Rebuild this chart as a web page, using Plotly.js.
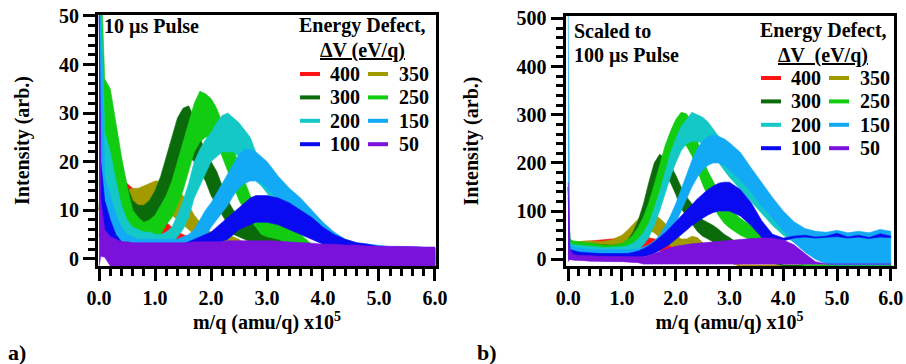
<!DOCTYPE html>
<html>
<head>
<meta charset="utf-8">
<script src="https://cdn.plot.ly/plotly-3.0.1.min.js"></script>
<style>html,body{margin:0;padding:0;background:#fff}#chart{width:906px;height:364px}</style>
</head>
<body>
<div id="chart"></div>
<script>
// m/q grid (x10^5 amu/q)
const X = [0, 0.03, 0.1, 0.2, 0.3, 0.4, 0.5, 0.6, 0.7, 0.8,
  0.9, 1.0, 1.1, 1.2, 1.3, 1.4, 1.5, 1.6, 1.7, 1.8,
  1.9, 2.0, 2.1, 2.2, 2.3, 2.4, 2.5, 2.6, 2.7, 2.8,
  2.9, 3.0, 3.2, 3.4, 3.6, 3.8, 4.0, 4.2, 4.4, 4.6,
  4.8, 5.0, 5.2, 5.4, 5.6, 5.8, 6.0];

const energies = ['400', '350', '300', '250', '200', '150', '100', '50'];

// ---- Panel a: 10 us pulse, upper / lower noise envelopes ----
const A400hi = [55, 30, 19, 17, 16.5, 16, 15.5, 14.5, 12.5, 11,
  9.5, 8.5, 8, 7.5, 6.5, 5.5, 5, 4.5, 4, 3.5,
  3, 2.5, 2, 1.5, 1.2, 1, 1, 0.8, 0.8, 0.7,
  0.7, 0.6, 0.5, 0.5, 0.4, 0.4, 0.3, 0.3, 0.3, 0.2,
  0.2, 0.2, 0.2, 0.2, 0.2, 0.2, 0.2];
const A400lo = [10, 14, 12, 11, 10, 9, 8.5, 8, 7, 6,
  5.5, 5, 4, 3.5, 3, 2.5, 2, 1.5, 1, 0.5,
  0, -0.3, -0.5, -0.6, -0.7, -0.8, -0.9, -1, -1, -1,
  -1.5, -1.5, -1.5, -1.5, -1.5, -1.5, -1.5, -1.5, -1.5, -1.5,
  -1.5, -1.5, -1.5, -1.5, -1.5, -1.5, -1.5];
const A350hi = [55, 35, 28, 26, 19, 15, 14, 14.5, 14.5, 15,
  15.5, 16, 16, 15.5, 15, 14, 13, 11, 9, 7.5,
  6, 5.5, 5, 5, 5, 4.5, 4, 3, 2, 1.5,
  1.2, 1, 0.8, 0.6, 0.5, 0.4, 0.3, 0.3, 0.3, 0.3,
  0.3, 0.3, 0.3, 0.3, 0.3, 0.3, 0.3];
const A350lo = [10, 18, 20, 18, 14, 11, 9.5, 9, 9, 9,
  9.5, 10, 10, 10, 9, 8, 7, 6, 5, 4,
  3, 2.5, 2, 2, 1.5, 1, 1, 0.5, 0, -0.5,
  -1.5, -1.5, -1.5, -1.5, -1.5, -1.5, -1.5, -1.5, -1.5, -1.5,
  -1.5, -1.5, -1.5, -1.5, -1.5, -1.5, -1.5];
const A300hi = [60, 45, 33, 32, 27, 20, 15, 12, 11, 11,
  12, 14, 17, 21, 25, 29, 31, 31.5, 29, 25,
  22, 20, 18, 15, 12, 10, 9, 8.5, 8, 8,
  7.5, 7, 5, 3.5, 2.5, 1.5, 1, 0.8, 0.6, 0.5,
  0.4, 0.3, 0.3, 0.3, 0.3, 0.3, 0.3];
const A300lo = [10, 20, 22, 20, 16, 11, 8, 6.5, 6, 6,
  6, 7.5, 9, 12, 15, 19, 21, 21, 20, 18,
  16, 13, 11, 9, 7, 5, 4.5, 4, 3.5, 3.5,
  3, 2.5, 1.5, 0.5, 0, -0.5, -1.5, -1.5, -1.5, -1.5,
  -1.5, -1.5, -1.5, -1.5, -1.5, -1.5, -1.5];
const A250hi = [60, 60, 37, 35, 28, 21, 15, 10, 8.5, 7.5,
  8, 9, 11, 13, 16, 20, 24, 28, 32, 34.5,
  34, 33, 31, 28, 25, 23, 19, 16, 13, 11,
  10, 9, 8, 7, 5, 3, 1.5, 0.8, 0.5, 0.4,
  0.3, 0.3, 0.3, 0.3, 0.3, 0.3, 0.3];
const A250lo = [15, 25, 25, 22, 15, 11, 7, 5, 4, 3.5,
  3.5, 4, 5, 7, 8.5, 11, 14, 18, 22, 24,
  25, 25, 24, 21, 18, 15, 12, 10, 8, 6.5,
  5, 4.5, 4, 3, 2, 0.5, -0.5, -1.5, -1.5, -1.5,
  -1.5, -1.5, -1.5, -1.5, -1.5, -1.5, -1.5];
const A200hi = [60, 55, 26, 22, 16, 11, 8, 6.5, 6, 5.5,
  5.5, 5, 5, 5.5, 6.5, 9, 12, 15.5, 20, 22.5,
  24.5, 26, 28, 29.5, 30, 29, 28, 26.5, 25, 22,
  20, 18, 15, 12, 9.5, 7, 5, 4, 3, 2.5,
  2, 2, 2, 1.8, 1.8, 1.6, 1.5];
const A200lo = [20, 20, 15, 12, 8, 5, 3.5, 3, 2.5, 2.5,
  2.5, 2.5, 2.5, 2.5, 3, 4.5, 6, 8.5, 12.5, 15,
  17.5, 20, 21, 22, 22, 22, 21, 20, 18.5, 16,
  15, 13.5, 10.5, 8.5, 6.5, 4.5, 3, 2, 1, 0.5,
  0, 0, -0.5, -0.5, -0.5, -0.5, -0.5];
const A150hi = [60, 50, 17, 13, 9, 6.5, 5, 4.5, 4, 4,
  4, 4, 4, 4, 4, 4, 4.5, 5, 6, 8,
  10, 11.5, 13.5, 15.5, 17.5, 19.5, 21.5, 22.5, 22.5, 22,
  21, 20, 17, 14.5, 12.5, 10, 7.5, 5.5, 4, 3.3,
  3, 2.7, 2.5, 2.5, 2.4, 2.4, 2.3];
const A150lo = [10, 10, 8, 5, 3, 2, 1.5, 1.5, 1.5, 1.5,
  1.5, 1.5, 1.5, 1.5, 1.5, 1.5, 1.5, 2, 2.5, 3.5,
  4.5, 6.5, 8, 9.5, 11, 13, 14.5, 15.5, 16, 16,
  15.5, 14.5, 12, 9.5, 8, 6, 4, 2.5, 1.5, 1,
  0.5, 0.3, 0, 0, 0, 0, 0];
const A100hi = [50, 20, 12, 8, 5, 3.5, 3, 2.8, 2.8, 2.8,
  2.8, 2.8, 2.8, 2.8, 2.8, 2.8, 3, 3.5, 4, 4.5,
  5, 5.5, 6.5, 7.5, 8.5, 9.5, 10.5, 11.5, 12.5, 13,
  13, 13, 12.5, 11.5, 10, 8.5, 6.5, 5, 4, 3.3,
  3, 2.5, 2.3, 2.3, 2.2, 2.2, 2.2];
const A100lo = [5, 3, 2, 1, 0.5, 0.5, 0.5, 0.5, 0.5, 0.5,
  0.5, 0.5, 0.5, 0.5, 0.5, 0.5, 0.7, 1, 1.2, 1.5,
  2, 2.5, 3, 3.5, 4, 5, 6, 6.5, 7, 7.5,
  7.5, 7.5, 7, 6, 5, 4, 3, 2, 1.5, 1,
  0.5, 0, 0, 0, 0, 0, 0];
const A50hi = [55, 12, 6, 4.5, 4, 3.5, 3.5, 3.3, 3.3, 3.3,
  3.3, 3.3, 3.3, 3.3, 3.3, 3.3, 3.3, 3.3, 3.5, 3.5,
  3.5, 3.5, 3.5, 3.5, 3.7, 3.7, 3.8, 3.8, 3.8, 3.8,
  3.8, 3.7, 3.6, 3.5, 3.3, 3.2, 3, 3, 2.8, 2.8,
  2.6, 2.6, 2.5, 2.5, 2.5, 2.4, 2.4];
const A50lo = [-1.5, 0.5, 0.3, -1.5, -1.5, -1.5, -1.5, -1.5, -1.5, -1.5,
  -1.5, -1.5, -1.5, -1.5, -1.5, -1.5, -1.5, -1.5, -1.5, -1.5,
  -1.5, -1.5, -1.5, -1.5, -1.5, -1.5, -1.5, -1.5, -1.5, -1.5,
  -1.5, -1.5, -1.5, -1.5, -1.5, -1.5, -1.5, -1.5, -1.5, -1.5,
  -1.5, -1.5, -1.5, -1.5, -1.5, -1.5, -1.5];

// ---- Panel b: scaled to 100 us pulse ----
const B400hi = [150, 40, 35, 36, 36, 37, 38, 39, 40, 41,
  42, 43, 45, 47, 48, 47, 45, 42, 40, 37,
  35, 32, 30, 33, 36, 33, 25, 20, 15, 10,
  7, 5, -12, -12, -12, -12, -12, -12, -12, -12,
  -12, -12, -12, -12, -12, -12, -12];
const B400lo = [10, 15, 20, 22, 23, 24, 24, 25, 25, 25,
  25, 25, 25, 25, 25, 24, 22, 20, 18, 16,
  15, 12, 10, 10, 10, 8, 5, 2, 0, -3,
  -5, -7, -14, -14, -14, -14, -14, -14, -14, -14,
  -14, -14, -14, -14, -14, -14, -14];
const B350hi = [150, 40, 35, 37, 38, 38, 37, 37, 38, 40,
  45, 50, 60, 72, 85, 95, 100, 95, 85, 75,
  60, 50, 42, 42, 48, 45, 35, 25, 15, 10,
  6, 3, -12, -12, -12, -12, -12, -12, -12, -12,
  -12, -12, -12, -12, -12, -12, -12];
const B350lo = [10, 18, 22, 24, 25, 25, 24, 23, 22, 23,
  25, 28, 32, 40, 50, 55, 60, 55, 45, 35,
  28, 20, 15, 12, 15, 15, 10, 5, 0, -3,
  -5, -7, -14, -14, -14, -14, -14, -14, -14, -14,
  -14, -14, -14, -14, -14, -14, -14];
const B300hi = [150, 40, 35, 34, 33, 32, 31, 30, 29, 29,
  30, 32, 40, 55, 80, 115, 160, 200, 218, 210,
  195, 175, 150, 130, 115, 95, 82, 76, 70, 62,
  52, 45, 30, 20, 10, 3, -12, -12, -12, -12,
  -12, -12, -12, -12, -12, -12, -12];
const B300lo = [10, 18, 22, 22, 21, 20, 18, 16, 15, 15,
  15, 16, 20, 30, 50, 80, 115, 150, 170, 170,
  160, 135, 105, 90, 75, 58, 48, 42, 36, 30,
  22, 15, 5, 0, -5, -8, -14, -14, -14, -14,
  -14, -14, -14, -14, -14, -14, -14];
const B250hi = [150, 42, 38, 37, 36, 34, 32, 30, 29, 29,
  30, 33, 40, 50, 66, 88, 118, 155, 195, 235,
  265, 290, 305, 302, 285, 245, 210, 182, 160, 140,
  120, 105, 85, 70, 55, 35, 15, 5, -12, -12,
  -12, -12, -12, -12, -12, -12, -12];
const B250lo = [10, 20, 24, 23, 22, 20, 18, 16, 15, 15,
  15, 17, 22, 28, 38, 55, 78, 105, 140, 175,
  205, 230, 240, 235, 215, 185, 155, 130, 110, 90,
  75, 65, 50, 40, 30, 15, 0, -5, -14, -14,
  -14, -14, -14, -14, -14, -14, -14];
const B200hi = [150, 35, 30, 29, 28, 26, 25, 24, 24, 25,
  25, 26, 28, 33, 42, 55, 75, 105, 140, 180,
  220, 250, 275, 290, 305, 300, 295, 285, 270, 255,
  240, 225, 195, 165, 135, 105, 80, 60, 45, 30,
  20, 10, 0, -5, -5, -5, -5];
const B200lo = [5, 12, 15, 15, 14, 13, 12, 11, 10, 10,
  10, 10, 12, 14, 20, 30, 45, 70, 100, 135,
  170, 200, 225, 240, 245, 245, 240, 230, 215, 200,
  185, 170, 145, 120, 95, 70, 50, 35, 20, 10,
  0, -5, -10, -10, -10, -10, -10];
const B150hi = [520, 30, 25, 23, 22, 21, 20, 20, 20, 20,
  20, 20, 20, 20, 22, 25, 30, 38, 50, 68,
  90, 115, 145, 175, 205, 230, 245, 255, 258, 255,
  250, 242, 222, 190, 158, 128, 100, 78, 64, 58,
  56, 60, 55, 58, 55, 62, 58];
const B150lo = [5, 5, 5, 5, 5, 5, 5, 5, 5, 5,
  5, 5, 5, 5, 6, 8, 10, 15, 22, 35,
  55, 75, 100, 125, 150, 170, 185, 195, 200, 200,
  195, 185, 165, 140, 110, 85, 60, 35, 15, 0,
  -10, -12, -12, -12, -12, -12, -12];
const B100hi = [130, 20, 18, 15, 14, 13, 12, 12, 12, 12,
  12, 12, 12, 14, 17, 22, 28, 36, 45, 55,
  66, 78, 90, 102, 115, 125, 135, 145, 152, 158,
  160, 160, 145, 118, 80, 52, 44, 48, 50, 46,
  48, 54, 46, 50, 45, 53, 48];
const B100lo = [0, 0, 0, 0, 0, 0, 0, 0, 0, 0,
  0, 0, 0, 2, 3, 5, 8, 12, 18, 25,
  32, 40, 50, 60, 70, 78, 85, 92, 97, 100,
  100, 100, 90, 70, 45, 30, 38, 44, 46, 44,
  46, 47, 44, 46, 43, 46, 45];
const B50hi = [160, 20, 10, 8, 8, 7, 7, 6, 6, 6,
  5, 5, 5, 5, 5, 5, 8, 12, 17, 21,
  24, 27, 29, 30, 32, 33, 34, 36, 37, 38,
  39, 40, 42, 43, 44, 44, 40, 30, 12, -5,
  -10, -10, -10, -10, -10, -10, -10];
const B50lo = [-5, 0, -2, -3, -3, -4, -4, -4, -5, -5,
  -5, -5, -5, -6, -7, -10, -10, -10, -10, -10,
  -10, -10, -10, -10, -10, -10, -10, -10, -10, -10,
  -10, -10, -10, -10, -10, -10, -10, -10, -10, -10,
  -10, -10, -10, -10, -10, -10, -10];

const panelA = [[A400hi, A400lo], [A350hi, A350lo], [A300hi, A300lo], [A250hi, A250lo],
  [A200hi, A200lo], [A150hi, A150lo], [A100hi, A100lo], [A50hi, A50lo]];
const panelB = [[B400hi, B400lo], [B350hi, B350lo], [B300hi, B300lo], [B250hi, B250lo],
  [B200hi, B200lo], [B150hi, B150lo], [B100hi, B100lo], [B50hi, B50lo]];

const colors = ['#ff1414', '#a19b00', '#0b6b0b', '#12cc12', '#14c8c8', '#12aaf5', '#0a0af0', '#7a12dc'];

const W = 906, H = 364;
const px = v => v / W;
const py = v => 1 - v / H;

const traces = [];
function addPanel(panel, xa, ya) {
  panel.forEach((pair, i) => {
    const hi = pair[0], lo = pair[1];
    const n = Math.min(hi.length, lo.length, X.length);
    const xs = X.slice(0, n), h = hi.slice(0, n), l = lo.slice(0, n);
    traces.push({
      x: xs.concat(xs.slice().reverse()),
      y: h.concat(l.slice().reverse()),
      xaxis: xa, yaxis: ya,
      type: 'scatter', mode: 'lines', fill: 'toself',
      fillcolor: colors[i], line: {color: colors[i], width: 0.6},
      name: energies[i], showlegend: false, hoverinfo: 'skip'
    });
  });
}
addPanel(panelA, 'x', 'y');
addPanel(panelB, 'x2', 'y2');

const F = {family: 'Liberation Serif', size: 20, color: '#000', weight: 'bold'};

function axisX(domain, range, anchor) {
  return {
    domain: domain, range: range, anchor: anchor, showgrid: false, zeroline: false,
    showline: true, linewidth: 3, linecolor: '#000', mirror: true,
    ticks: 'outside', ticklen: 12, tickwidth: 3, tickcolor: '#000',
    tick0: 0, dtick: 1, tickformat: '.1f', tickfont: F,
    minor: {ticks: 'outside', ticklen: 7, tickwidth: 3, tickcolor: '#000', dtick: 0.2, showgrid: false},
    title: {text: 'm/q (amu/q) x10<sup>5</sup>', font: F, standoff: 4}
  };
}
function axisY(domain, range, dtick, minor, anchor, standoff) {
  return {
    domain: domain, range: range, showgrid: false, zeroline: false, anchor: anchor,
    showline: true, linewidth: 3, linecolor: '#000', mirror: true,
    ticks: 'outside', ticklen: 12, tickwidth: 3, tickcolor: '#000',
    tick0: 0, dtick: dtick, tickfont: F,
    minor: {ticks: 'outside', ticklen: 7, tickwidth: 3, tickcolor: '#000', dtick: minor, showgrid: false},
    title: {text: 'Intensity (arb.)', font: F, standoff: standoff}
  };
}

const annotations = [];
function txt(t, x, y, xanchor, extra) {
  annotations.push(Object.assign({text: t, x: px(x), y: py(y), xref: 'paper', yref: 'paper',
    xanchor: xanchor, yanchor: 'middle', showarrow: false, font: F}, extra || {}));
}
const shapes = [];
function legend(x0, y0, dy) {
  const colX = [[x0, x0 + 20, x0 + 28], [x0 + 68, x0 + 88, x0 + 97]];
  energies.forEach((e, i) => {
    const c = colX[i % 2], row = Math.floor(i / 2);
    const yy = y0 + row * dy;
    shapes.push({type: 'line', xref: 'paper', yref: 'paper', x0: px(c[0]), x1: px(c[1]), y0: py(yy), y1: py(yy),
      line: {color: colors[i], width: 4}});
    txt(e, c[2], yy, 'left');
  });
}

// panel a texts
txt('10 µs Pulse', 102, 27, 'left');
txt('Energy Defect,', 362, 26, 'center');
txt('ΔV (eV/q)', 362, 51, 'center', {font: Object.assign({}, F, {lineposition: 'under'})});
legend(300, 74, 23.4);
txt('a)', 6, 352, 'left', {font: Object.assign({}, F, {size: 22})});
// panel b texts
txt('Scaled to', 572, 31, 'left');
txt('100 µs Pulse', 572, 55, 'left');
txt('Energy Defect,', 823, 30, 'center');
txt('ΔV  (eV/q)', 823, 55, 'center', {font: Object.assign({}, F, {lineposition: 'under'})});
legend(761, 78, 23.4);
txt('b)', 475, 352, 'left', {font: Object.assign({}, F, {size: 22})});

const layout = {
  width: W, height: H, margin: {l: 0, r: 0, t: 0, b: 0},
  paper_bgcolor: '#fff', plot_bgcolor: '#fff', showlegend: false,
  xaxis: axisX([98 / W, 436 / W], [-0.02, 6.02], 'y'),
  yaxis: axisY([1 - 266 / H, 1 - 15 / H], [-1.5, 50.2], 10, 2, 'x', 25),
  xaxis2: axisX([565.5 / W, 893.5 / W], [-0.05, 6.05], 'y2'),
  yaxis2: axisY([1 - 266 / H, 1 - 16 / H], [-14, 505], 100, 20, 'x2', 33),
  annotations: annotations, shapes: shapes
};

Plotly.newPlot('chart', traces, layout, {staticPlot: true, displayModeBar: false});
</script>
</body>
</html>
